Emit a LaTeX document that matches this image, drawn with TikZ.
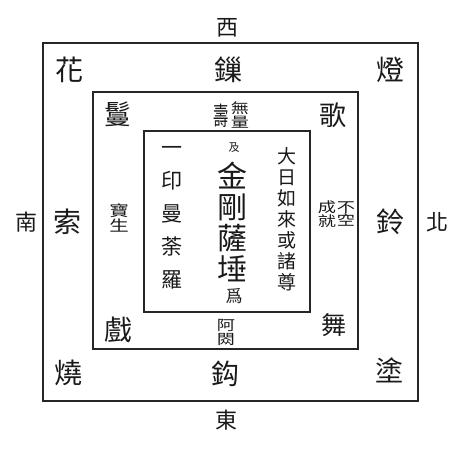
\documentclass[tikz,border=0pt]{standalone}
\usepackage{graphicx}
\usepackage{fontspec}
\newfontfamily\cjk{Noto Sans CJK TC}
\newcommand{\fs}[1]{\fontsize{#1}{#1}\selectfont}
\newcommand{\wide}[1]{\scalebox{1.3}[1]{#1}}
\tikzset{
  frame/.style={draw=black!85, line width=1.4pt},
  ch/.style={inner sep=0pt, font=\cjk\fs{#1}, text=black!90},
  col/.style n args={2}{inner sep=0pt, align=center, font=\cjk\fontsize{#1}{#2}\selectfont, text=black!90}
}
\begin{document}
\begin{tikzpicture}[x=1pt,y=-1pt]
\useasboundingbox (0,0) rectangle (469,454);
% frames
\node[frame, minimum width=375pt, minimum height=358pt, inner sep=0pt] (outer) at (230.5,222) {};
\node[frame, minimum width=265pt, minimum height=257pt, inner sep=0pt] (middle) at (225.5,220.5) {};
\node[frame, minimum width=166pt, minimum height=181pt, inner sep=0pt] (inner) at (227,221.5) {};
% directions
\node[ch=22] (west) at (227,28) {西};
\node[ch=22] (east) at (226,420) {東};
\node[ch=22] (south) at (27,222) {南};
\node[ch=22] (north) at (437,222) {北};
% outer ring
\node[ch=28] (hua) at (69,70) {花};
\node[ch=28] (suo1) at (228,70) {鏁};
\node[ch=28] (deng) at (390,70) {燈};
\node[ch=28] (suo2) at (67,222) {索};
\node[ch=28] (ling) at (390,222) {鈴};
\node[ch=28] (shao) at (68,373) {燒};
\node[ch=28] (gou) at (225,374) {鈎};
\node[ch=28] (tu) at (389,370) {塗};
% middle ring
\node[ch=27] (man) at (118,114) {鬘};
\node[ch=27] (ge) at (333,115) {歌};
\node[ch=28] (xi) at (118,330) {戲};
\node[ch=25] (wu) at (334,325) {舞};
\node[col={14}{14}] (wlsA) at (240,115) {\wide{無}\\\wide{量}};
\node[ch=17] (wlsB) at (221,116) {\scalebox{0.9}[1.5]{壽}};
\node[col={14}{13}] (bkA) at (346,214) {\wide{不}\\\wide{空}};
\node[col={14}{13}] (bkB) at (327,214) {\wide{成}\\\wide{就}};
\node[col={15}{15}] (bs) at (119,218) {\wide{寶}\\\wide{生}};
\node[col={14}{14}] (ac) at (226,332) {\wide{阿}\\\wide{閦}};
% inner square
\node[ch=11] (ji) at (234,148) {及};
\node[col={30}{31}] (jgst) at (232,222) {金\\剛\\薩\\埵};
\node[ch=17] (wei) at (234,296) {爲};
\node[col={21}{33}] (yiyin) at (172,218) {一\\印\\曼\\荼\\羅};
\node[col={19}{21}] (dari) at (287,219) {大\\日\\如\\來\\或\\諸\\尊};
\end{tikzpicture}
\end{document}
